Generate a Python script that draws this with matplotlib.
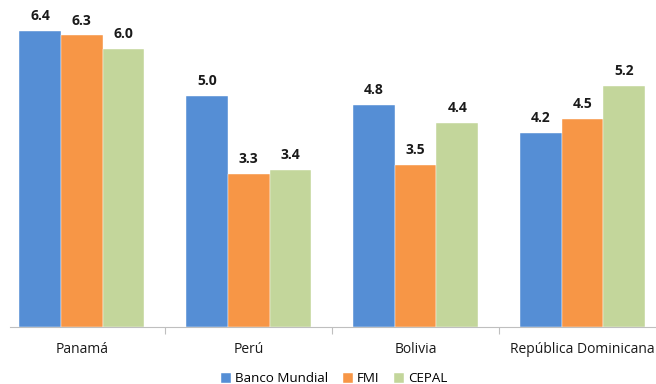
import matplotlib.pyplot as plt
import numpy as np

plt.rcParams['font.family'] = ['Open Sans', 'DejaVu Sans']

# data
paises = ["Panamá", "Perú", "Bolivia", "República Dominicana"]
banco_mundial = [6.4, 5.0, 4.8, 4.2]
fmi = [6.3, 3.3, 3.5, 4.5]
cepal = [6.0, 3.4, 4.4, 5.2]
series = ["Banco Mundial", "FMI", "CEPAL"]
colores = ["#558ED5", "#F79646", "#C3D69B"]

fig = plt.figure(figsize=(6.56, 3.84), dpi=100)
ax = fig.add_axes([10 / 656, 57 / 384, 646 / 656, 324 / 384])

x = np.arange(len(paises))
w = 0.25
for i, (vals, nombre, col) in enumerate(zip([banco_mundial, fmi, cepal], series, colores)):
  bars = ax.bar(x + (i - 1) * w, vals, w, color=col, label=nombre,
                edgecolor="white", linewidth=0.3)
  for b, v in zip(bars, vals):
    ax.text(b.get_x() + b.get_width() / 2, v + 0.17, f"{v:.1f}",
            ha="center", va="bottom", fontsize=10, fontweight="bold", color="#1a1a1a")

ax.set_xlim(-0.43, 3.44)
ax.set_ylim(0, 7)
ax.set_yticks([])
for s in ["top", "right", "left"]:
  ax.spines[s].set_visible(False)
ax.spines["bottom"].set_color("#BFBFBF")

# group separators as ticks, labels centred on groups
ax.set_xticks([0.5, 1.5, 2.5])
ax.set_xticklabels([])
ax.tick_params(axis="x", length=5, color="#BFBFBF")
ax.set_xticks(x, minor=True)
ax.set_xticklabels(paises, minor=True, fontsize=10, color="#1a1a1a")
ax.tick_params(axis="x", which="minor", length=0, pad=11)

fig.legend(loc="lower center", bbox_to_anchor=(0.51, -0.035), ncol=3, frameon=False,
           fontsize=9.6, handlelength=0.75, handleheight=0.75, handletextpad=0.3,
           columnspacing=1.1)

fig.savefig("out.png", dpi=100)
